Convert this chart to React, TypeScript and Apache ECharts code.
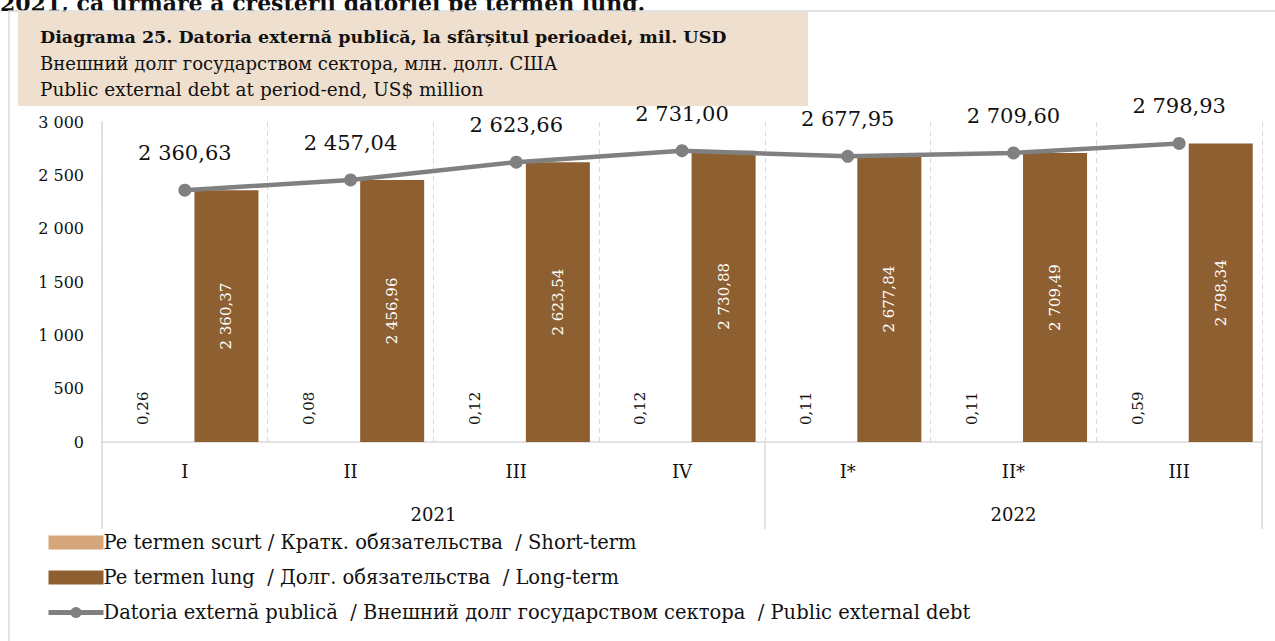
import React, { useEffect, useRef } from "react";
import * as echarts from "echarts";

const quarters = ["I", "II", "III", "IV", "I*", "II*", "III"];
const years = ["2021", "2022"];
const yearCenters = [2, 5.5];
const yearBounds = [0, 4, 7];
const shortTerm = [0.26, 0.08, 0.12, 0.12, 0.11, 0.11, 0.59];
const longTerm = [2360.37, 2456.96, 2623.54, 2730.88, 2677.84, 2709.49, 2798.34];
const total = [2360.63, 2457.04, 2623.66, 2731.0, 2677.95, 2709.6, 2798.93];
const yTicks = { min: 0, max: 3000, interval: 500 };

const seriesNames = [
  "Pe termen scurt / Кратк. обязательства  / Short-term",
  "Pe termen lung  / Долг. обязательства  / Long-term",
  "Datoria externă publică  / Внешний долг государством сектора  / Public external debt",
];
const titleLines = [
  "Diagrama 25. Datoria externă publică, la sfârșitul perioadei, mil. USD",
  "Внешний долг государством сектора, млн. долл. США",
  "Public external debt at period-end, US$ million",
];
const cutText = "2021, ca urmare a creșterii datoriei pe termen lung.";

const FONT = "DejaVu Serif";

function fmt(v: number, dec: number): string {
  const s = v.toFixed(dec);
  const [i, d] = s.split(".");
  const ii = i.replace(/\B(?=(\d{3})+(?!\d))/g, " ");
  return d ? ii + "," + d : ii;
}

export default function App() {
  const ref = useRef<HTMLDivElement>(null);
  useEffect(() => {
    if (!ref.current) return;
    const chart = echarts.init(ref.current, null, { renderer: "svg" });
    chart.setOption({
      animation: false,
      backgroundColor: "#ffffff",
      textStyle: { fontFamily: FONT },
      graphic: [
        {
          type: "text",
          left: 0,
          top: -8,
          style: { text: cutText, font: `bold 22px "${FONT}"`, fill: "#111" },
        },
        {
          type: "rect",
          shape: { x: 9, y: 11, width: 1300, height: 700 },
          style: { fill: "none", stroke: "#d9d9d9", lineWidth: 1.5 },
          silent: true,
        },
        {
          type: "rect",
          shape: { x: 18, y: 12, width: 790, height: 94 },
          style: { fill: "#EFDFCF" },
          silent: true,
        },
        {
          type: "text",
          x: 40,
          y: 37,
          style: { text: titleLines[0], font: `bold 17.5px "${FONT}"`, fill: "#111", verticalAlign: "middle" },
        },
        {
          type: "text",
          x: 40,
          y: 63,
          style: { text: titleLines[1], font: `18px "${FONT}"`, fill: "#111", verticalAlign: "middle" },
        },
        {
          type: "text",
          x: 40,
          y: 89,
          style: { text: titleLines[2], font: `18.5px "${FONT}"`, fill: "#111", verticalAlign: "middle" },
        },
      ],
      legend: {
        orient: "vertical",
        left: 41,
        top: 526,
        itemGap: 12,
        itemWidth: 55,
        itemHeight: 14,
        textStyle: { fontFamily: FONT, fontSize: 19.5, color: "#111", padding: [0, 0, 0, -5], lineHeight: 23 },
        data: [
          { name: seriesNames[0], icon: "rect" },
          { name: seriesNames[1], icon: "rect" },
          { name: seriesNames[2], lineStyle: { width: 5 } },
        ],
      },
      grid: { left: 102, right: 13, top: 122, bottom: 199, containLabel: false },
      xAxis: [
        {
          type: "category",
          data: quarters,
          axisLine: { show: true, lineStyle: { color: "#d9d9d9", width: 1.5 } },
          axisTick: { show: false },
          axisLabel: { fontFamily: FONT, fontSize: 18, color: "#111", margin: 20 },
          splitLine: { show: true, lineStyle: { color: "#d9d9d9", type: [5, 4], width: 1 } },
        },
        {
          type: "value",
          position: "bottom",
          min: 0,
          max: 7,
          interval: 0.5,
          axisLine: { show: false },
          axisTick: {
            show: true,
            customValues: yearBounds,
            length: 87,
            lineStyle: { color: "#d9d9d9", width: 1.5 },
          },
          axisLabel: {
            customValues: yearCenters,
            formatter: (v: number) => years[yearCenters.indexOf(v)] ?? "",
            fontFamily: FONT,
            fontSize: 18,
            color: "#111",
            margin: 63,
          },
          splitLine: { show: false },
        },
      ],
      yAxis: {
        type: "value",
        min: yTicks.min,
        max: yTicks.max,
        interval: yTicks.interval,
        axisLine: { show: true, lineStyle: { color: "#d9d9d9", width: 1.5 } },
        axisTick: { show: false },
        splitLine: { show: false },
        axisLabel: {
          fontFamily: FONT,
          fontSize: 16,
          color: "#111",
          margin: 18,
          formatter: (v: number) => fmt(v, 0),
        },
      },
      series: [
        {
          name: seriesNames[0],
          type: "bar",
          data: shortTerm,
          barWidth: 64,
          barGap: "30%",
          itemStyle: { color: "#D4A679" },
          label: {
            show: true,
            position: "top",
            rotate: 90,
            align: "left",
            verticalAlign: "middle",
            distance: 17,
            fontFamily: FONT,
            fontSize: 15,
            color: "#111",
            formatter: (p: any) => fmt(p.value, 2),
          },
        },
        {
          name: seriesNames[1],
          type: "bar",
          data: longTerm,
          barWidth: 64,
          barGap: "30%",
          itemStyle: { color: "#8D5F31" },
          label: {
            show: true,
            position: "inside",
            rotate: 90,
            fontFamily: FONT,
            fontSize: 15,
            color: "#ffffff",
            formatter: (p: any) => fmt(p.value, 2),
          },
        },
        {
          name: seriesNames[2],
          type: "line",
          data: total,
          symbol: "circle",
          symbolSize: 13,
          lineStyle: { color: "#808080", width: 4.5 },
          itemStyle: { color: "#808080" },
          label: {
            show: true,
            position: "top",
            distance: 20,
            fontFamily: FONT,
            fontSize: 21,
            color: "#111",
            formatter: (p: any) => fmt(p.value, 2),
          },
          z: 5,
        },
      ],
    });
    return () => chart.dispose();
  }, []);
  return (
    <div
      ref={ref}
      style={{ position: "fixed", left: 0, top: 0, width: 1275, height: 641 }}
    />
  );
}
